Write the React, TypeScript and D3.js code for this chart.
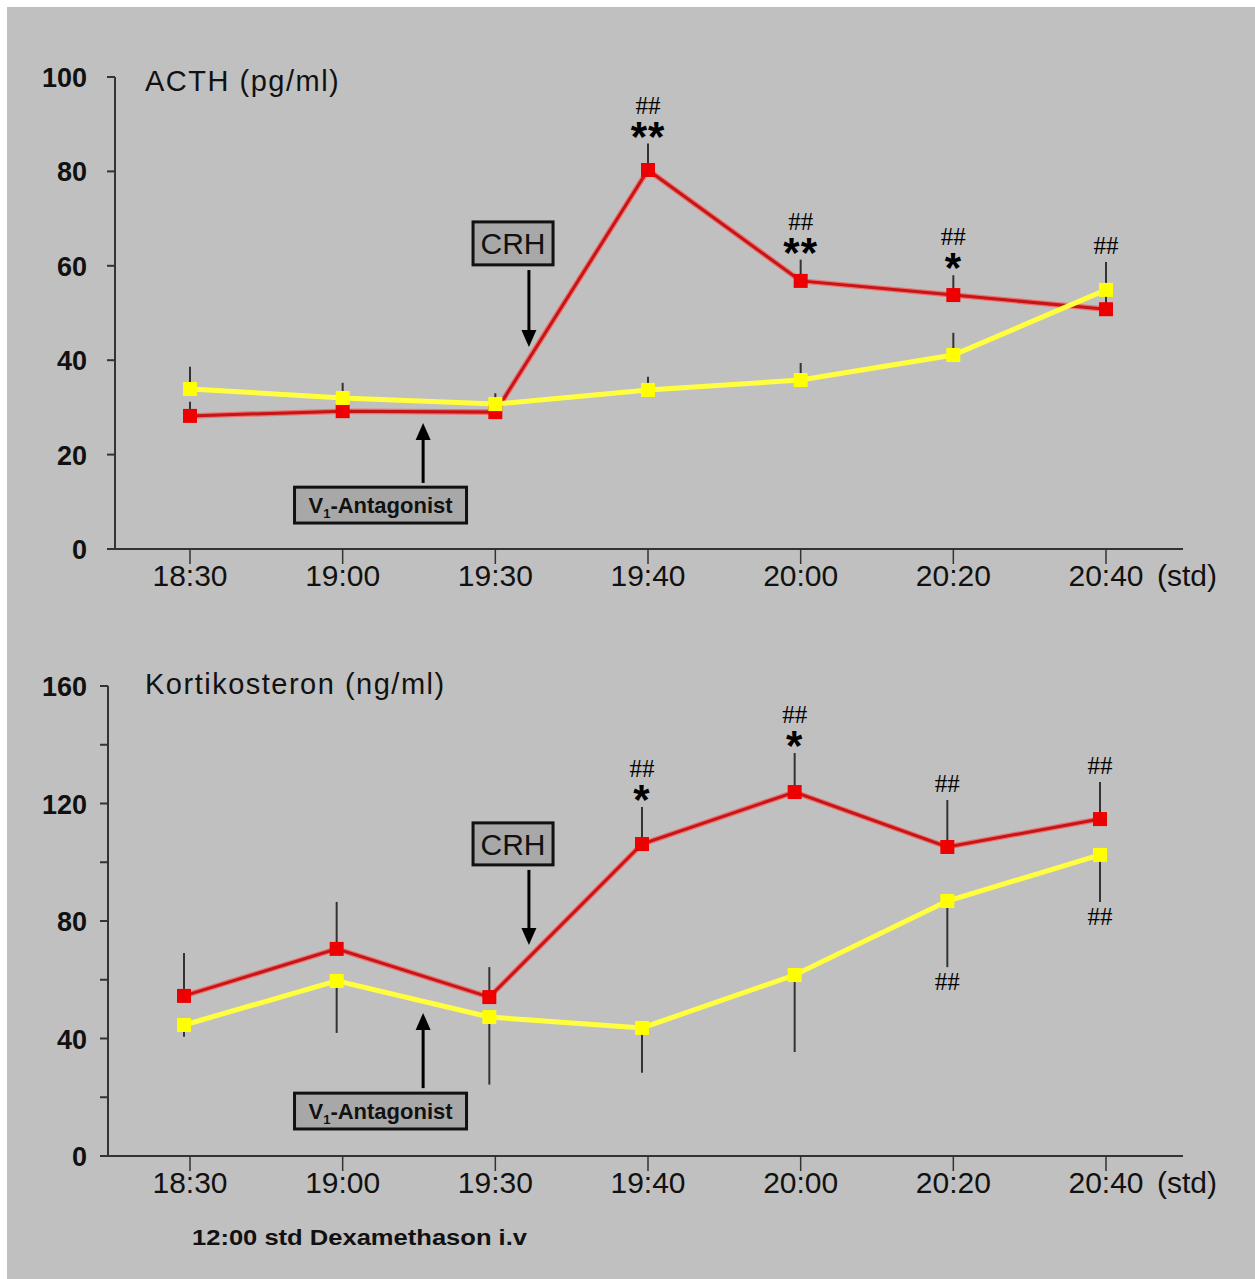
import React from "react";
import * as d3 from "d3";

// sampling times (x axis)
const times = ["18:30", "19:00", "19:30", "19:40", "20:00", "20:20", "20:40"];

// ACTH (pg/ml)
const acthTicks = [0, 20, 40, 60, 80, 100];
const acthTickLabels = [0, 20, 40, 60, 80, 100];
const acthRed = [28.2, 29.2, 29.0, 80.3, 56.8, 53.8, 50.8];
const acthRedErr = [3.0, 2.0, 1.5, 5.6, 4.5, 4.2, 3.5];
const acthYellow = [33.9, 32.0, 30.7, 33.7, 35.8, 41.1, 54.9];
const acthYellowErr = [4.7, 3.2, 2.3, 2.8, 3.6, 4.7, 5.9];
const acthRedStars = ["", "", "", "**", "**", "*", ""];
const acthRedHash = ["", "", "", "##", "##", "##", ""];
const acthYellowHash = ["", "", "", "", "", "", "##"];

// Kortikosteron (ng/ml)
const kortTicks = [0, 20, 40, 60, 80, 100, 120, 140, 160];
const kortTickLabels = [0, 40, 80, 120, 160];
const kortRed = [54.5, 70.5, 54.1, 106.2, 123.9, 105.2, 114.7];
const kortRedErr = [14.6, 16.0, 10.2, 12.6, 13.3, 16.0, 12.6];
const kortYellow = [44.6, 59.6, 47.3, 43.6, 61.6, 86.8, 102.5];
const kortYellowErr = [4.0, 17.7, 23.0, 15.3, 26.2, 22.5, 16.0];
const kortRedStars = ["", "", "", "*", "*", "", ""];
const kortRedHash = ["", "", "", "##", "##", "##", "##"];
const kortYellowHash = ["", "", "", "", "", "##", "##"];

const SANS = "'Liberation Sans', Arial, sans-serif";
const SERIF = "'Liberation Serif', 'Times New Roman', serif";

const X0 = 190;
const X1 = 1106;

type Box = { cx: number; top: number; bottom: number; arrowFrom: number; arrowTo: number; arrowAt: number };

type PanelProps = {
  title: string;
  yMax: number;
  ticks: number[];
  tickLabels: number[];
  yTop: number;
  yBottom: number;
  axisX: number;
  shift: number;
  titleY: number;
  red: number[];
  redErr: number[];
  yellow: number[];
  yellowErr: number[];
  yellowDir: number;
  redStars: string[];
  redHash: string[];
  yellowHash: string[];
  crh: Box;
  v1: Box;
};

function Arrow({ x, y1, y2 }: { x: number; y1: number; y2: number }) {
  const dir = y2 > y1 ? 1 : -1;
  const head = 17;
  return (
    <g>
      <line x1={x} y1={y1} x2={x} y2={y2 - dir * head} stroke="#000" strokeWidth={3} />
      <path d={`M${x - 7.5},${y2 - dir * head} L${x + 7.5},${y2 - dir * head} L${x},${y2} Z`} fill="#000" />
    </g>
  );
}

function Panel(p: PanelProps) {
  const x = d3.scalePoint<string>().domain(times).range([X0, X1]);
  const xi = d3.scaleLinear().domain([0, times.length - 1]).range([X0, X1]);
  const y = d3.scaleLinear().domain([0, p.yMax]).range([p.yBottom, p.yTop]);
  const px = (i: number) => (x(times[i]) as number) + p.shift;

  const line = d3
    .line<number>()
    .x((_, i) => px(i))
    .y((d) => y(d));

  // asterisk glyph sits ~0.46em above the baseline
  const star = (txt: string, cx: number, cy: number, key: string) =>
    txt ? (
      <text key={key} x={cx} y={cy + 19} textAnchor="middle" fontFamily={SANS} fontWeight="bold" fontSize={42} letterSpacing={1}>
        {txt}
      </text>
    ) : null;
  const hash = (txt: string, cx: number, cy: number, key: string) =>
    txt ? (
      <text key={key} x={cx} y={cy + 8} textAnchor="middle" fontFamily={SERIF} fontSize={25}>
        {txt}
      </text>
    ) : null;

  const crhX = xi(p.crh.cx);
  const v1X = xi(p.v1.cx);

  return (
    <g>
      {/* axes */}
      <line x1={p.axisX} y1={y(p.yMax)} x2={p.axisX} y2={p.yBottom} stroke="#333" strokeWidth={2} />
      <line x1={p.axisX - 8} y1={p.yBottom} x2={1183} y2={p.yBottom} stroke="#333" strokeWidth={2} />
      {p.ticks.map((t) => (
        <line key={"yt" + t} x1={p.axisX - 8} x2={p.axisX} y1={y(t)} y2={y(t)} stroke="#333" strokeWidth={2} />
      ))}
      {p.tickLabels.map((t) => (
        <text key={"yl" + t} x={87} y={y(t) + 10} textAnchor="end" fontFamily={SANS} fontWeight="bold" fontSize={27} fill="#111">
          {t}
        </text>
      ))}
      {times.map((t) => (
        <g key={"xt" + t}>
          <line x1={x(t)} x2={x(t)} y1={p.yBottom} y2={p.yBottom + 15} stroke="#333" strokeWidth={1.5} />
          <text x={x(t)} y={p.yBottom + 37} textAnchor="middle" fontFamily={SANS} fontSize={30} fill="#111">
            {t}
          </text>
        </g>
      ))}
      <text x={(x(times[6]) as number) + 51} y={p.yBottom + 37} fontFamily={SANS} fontSize={30} fill="#111">
        (std)
      </text>
      <text x={145} y={p.titleY} fontFamily={SANS} fontSize={29} letterSpacing={1.5} fill="#111">
        {p.title}
      </text>

      {/* error bars */}
      {p.red.map((v, i) => (
        <line key={"re" + i} x1={px(i)} x2={px(i)} y1={y(v)} y2={y(v + p.redErr[i])} stroke="#333" strokeWidth={2} />
      ))}
      {p.yellow.map((v, i) => (
        <line key={"ye" + i} x1={px(i)} x2={px(i)} y1={y(v)} y2={y(v + p.yellowDir * p.yellowErr[i])} stroke="#333" strokeWidth={2} />
      ))}

      {/* lines */}
      <path d={line(p.red) || ""} fill="none" stroke="#ee7070" strokeWidth={5.5} />
      <path d={line(p.red) || ""} fill="none" stroke="#c41616" strokeWidth={3} />
      <path d={line(p.yellow) || ""} fill="none" stroke="#ffff40" strokeWidth={5} />

      {/* markers */}
      {p.red.map((v, i) => (
        <rect key={"rm" + i} x={px(i) - 7} y={y(v) - 7} width={14} height={14} fill="#ee0000" />
      ))}
      {p.yellow.map((v, i) => (
        <rect key={"ym" + i} x={px(i) - 7} y={y(v) - 7} width={14} height={14} fill="#ffff00" />
      ))}

      {/* significance marks */}
      {p.red.map((v, i) => {
        const top = y(v + p.redErr[i]);
        const s = p.redStars[i];
        return (
          <g key={"rs" + i}>
            {star(s, px(i), top - 12, "s")}
            {hash(p.redHash[i], px(i), s ? top - 38 : top - 16, "h")}
          </g>
        );
      })}
      {p.yellow.map((v, i) => {
        const end = y(v + p.yellowDir * p.yellowErr[i]);
        return hash(p.yellowHash[i], px(i), p.yellowDir > 0 ? end - 16 : end + 15, "yh" + i);
      })}

      {/* CRH */}
      <rect x={crhX - 40} y={y(p.crh.top)} width={80} height={y(p.crh.bottom) - y(p.crh.top)} fill="#a8a8a8" stroke="#111" strokeWidth={3} />
      <text x={crhX} y={(y(p.crh.top) + y(p.crh.bottom)) / 2 + 11} textAnchor="middle" fontFamily={SANS} fontSize={30} fill="#111">
        CRH
      </text>
      <Arrow x={xi(p.crh.arrowAt)} y1={y(p.crh.arrowFrom)} y2={y(p.crh.arrowTo)} />

      {/* V1-Antagonist */}
      <rect x={v1X - 86} y={y(p.v1.top)} width={172} height={y(p.v1.bottom) - y(p.v1.top)} fill="#a8a8a8" stroke="#111" strokeWidth={3} />
      <text x={v1X} y={(y(p.v1.top) + y(p.v1.bottom)) / 2 + 8} textAnchor="middle" fontFamily={SANS} fontWeight="bold" fontSize={22} fill="#111">
        V<tspan fontSize={13} dy={5}>1</tspan>
        <tspan dy={-5}>-Antagonist</tspan>
      </text>
      <Arrow x={xi(p.v1.arrowAt)} y1={y(p.v1.arrowFrom)} y2={y(p.v1.arrowTo)} />
    </g>
  );
}

export default function App() {
  return (
    <svg width={1255} height={1279} style={{ position: "absolute", left: 0, top: 0 }}>
      <rect x={0} y={0} width={1255} height={1279} fill="#ffffff" />
      <rect x={7} y={7} width={1248} height={1272} fill="#c0c0c0" />
      <Panel
        title="ACTH (pg/ml)"
        yMax={100}
        ticks={acthTicks}
        tickLabels={acthTickLabels}
        yTop={77}
        yBottom={549}
        axisX={115}
        shift={0}
        titleY={91}
        red={acthRed}
        redErr={acthRedErr}
        yellow={acthYellow}
        yellowErr={acthYellowErr}
        yellowDir={1}
        redStars={acthRedStars}
        redHash={acthRedHash}
        yellowHash={acthYellowHash}
        crh={{ cx: 2.116, top: 69.3, bottom: 60.2, arrowAt: 2.22, arrowFrom: 59.1, arrowTo: 42.8 }}
        v1={{ cx: 1.248, top: 13.1, bottom: 5.5, arrowAt: 1.527, arrowFrom: 14, arrowTo: 26.7 }}
      />
      <Panel
        title="Kortikosteron (ng/ml)"
        yMax={160}
        ticks={kortTicks}
        tickLabels={kortTickLabels}
        yTop={686}
        yBottom={1156}
        axisX={108}
        shift={-6}
        titleY={694}
        red={kortRed}
        redErr={kortRedErr}
        yellow={kortYellow}
        yellowErr={kortYellowErr}
        yellowDir={-1}
        redStars={kortRedStars}
        redHash={kortRedHash}
        yellowHash={kortYellowHash}
        crh={{ cx: 2.116, top: 113.4, bottom: 99.1, arrowAt: 2.22, arrowFrom: 97.4, arrowTo: 71.8 }}
        v1={{ cx: 1.248, top: 21.4, bottom: 9.2, arrowAt: 1.527, arrowFrom: 23.1, arrowTo: 48.7 }}
      />
      <text x={192} y={1245} fontFamily={SANS} fontWeight="bold" fontSize={22} textLength={335} lengthAdjust="spacingAndGlyphs" fill="#111">
        12:00 std Dexamethason i.v
      </text>
    </svg>
  );
}
